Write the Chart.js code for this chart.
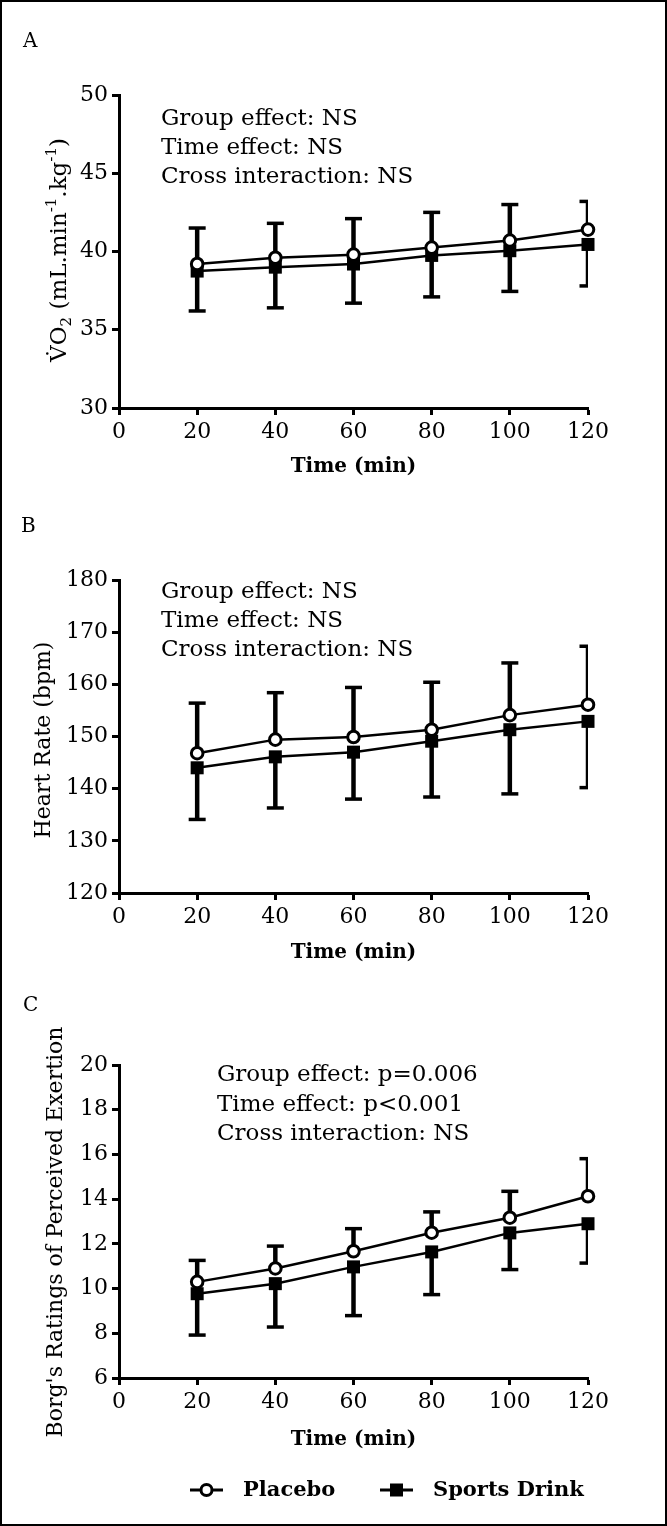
<!DOCTYPE html>
<html>
<head>
<meta charset="utf-8">
<script src="https://cdn.jsdelivr.net/npm/chart.js@4.4.1/dist/chart.umd.min.js"></script>
<style>
html, body { margin: 0; padding: 0; background: #fff; }
#wrap { position: relative; width: 667px; height: 1526px; overflow: hidden; background: #fff; }
#wrap canvas { position: absolute; left: 0; }
#frame { position: absolute; left: 0; top: 0; width: 667px; height: 1526px; box-sizing: border-box; border: 2px solid #000; pointer-events: none; }
</style>
</head>
<body>
<div id="wrap">
  <canvas id="cA" width="667" height="490" style="top:0px"></canvas>
  <canvas id="cB" width="667" height="480" style="top:490px"></canvas>
  <canvas id="cC" width="667" height="556" style="top:970px"></canvas>
  <div id="frame"></div>
</div>
<script>
// ---------------- data ----------------
const times = [20, 40, 60, 80, 100, 120];
const xTickValues = [0, 20, 40, 60, 80, 100, 120];
const seriesLabels = ['Placebo', 'Sports Drink'];
const xTitle = 'Time (min)';

// Panel A: VO2
const vo2Ticks = [30, 35, 40, 45, 50];
const vo2Placebo = [39.2, 39.6, 39.8, 40.25, 40.7, 41.4];
const vo2PlaceboUpper = [41.5, 41.8, 42.1, 42.5, 43.0, 43.2];
const vo2Sports = [38.75, 39.0, 39.2, 39.75, 40.05, 40.45];
const vo2SportsLower = [36.2, 36.4, 36.7, 37.1, 37.45, 37.8];
const vo2TitleParts = ['V\u0307O', '2', ' (mL.min', '-1', '.kg', '-1', ')'];
const vo2TitleKinds = ['n', 'sub', 'n', 'sup', 'n', 'sup', 'n'];
const vo2Notes = ['Group effect: NS', 'Time effect: NS', 'Cross interaction: NS'];

// Panel B: Heart rate
const hrTicks = [120, 130, 140, 150, 160, 170, 180];
const hrPlacebo = [146.8, 149.4, 149.9, 151.3, 154.1, 156.1];
const hrPlaceboUpper = [156.4, 158.4, 159.4, 160.4, 164.1, 167.3];
const hrSports = [144.0, 146.1, 147.0, 149.1, 151.3, 152.9];
const hrSportsLower = [134.1, 136.3, 138.0, 138.4, 139.0, 140.2];
const hrTitle = 'Heart Rate (bpm)';
const hrNotes = ['Group effect: NS', 'Time effect: NS', 'Cross interaction: NS'];

// Panel C: RPE
const rpeTicks = [6, 8, 10, 12, 14, 16, 18, 20];
const rpePlacebo = [10.3, 10.9, 11.67, 12.5, 13.17, 14.13];
const rpePlaceboUpper = [11.26, 11.9, 12.68, 13.43, 14.35, 15.81];
const rpeSports = [9.77, 10.22, 10.97, 11.64, 12.49, 12.9];
const rpeSportsLower = [7.92, 8.28, 8.79, 9.73, 10.85, 11.14];
const rpeTitle = "Borg's Ratings of Perceived Exertion";
const rpeNotes = ['Group effect: p=0.006', 'Time effect: p<0.001', 'Cross interaction: NS'];

// ---------------- rendering ----------------
const FONT = '"DejaVu Serif", "Liberation Serif", serif';

function makeDeco(cfg) {
  return {
    id: 'deco' + cfg.letter,
    beforeDatasetsDraw(chart) {
      const { ctx, chartArea } = chart;
      const xs = chart.scales.x, ys = chart.scales.y;
      ctx.save();
      ctx.beginPath();
      ctx.rect(chartArea.left - 20, 0, chartArea.right - chartArea.left + 20, chart.height);
      ctx.clip();
      ctx.strokeStyle = '#000';
      ctx.lineCap = 'butt';
      cfg.bars.forEach(b => {
        b.means.forEach((m, i) => {
          const x = xs.getPixelForValue(times[i]);
          const y0 = ys.getPixelForValue(m);
          const y1 = ys.getPixelForValue(b.tips[i]);
          ctx.lineWidth = 4.5;
          ctx.beginPath(); ctx.moveTo(x, y0); ctx.lineTo(x, y1); ctx.stroke();
          ctx.lineWidth = 3.5;
          ctx.beginPath(); ctx.moveTo(x - 8.5, y1); ctx.lineTo(x + 8.5, y1); ctx.stroke();
        });
      });
      ctx.restore();
    },
    afterDraw(chart) {
      const ctx = chart.ctx;
      ctx.save();
      ctx.fillStyle = '#000';
      // panel letter
      ctx.font = '20px ' + FONT;
      ctx.textAlign = 'left';
      ctx.textBaseline = 'alphabetic';
      ctx.fillText(cfg.letter, cfg.letterX, cfg.letterY);
      // notes
      ctx.font = '23px ' + FONT;
      cfg.notes.forEach((t, i) => ctx.fillText(t, cfg.notesX, cfg.notesY[i]));
      // y title
      ctx.save();
      ctx.translate(cfg.yTitleX, cfg.yTitleY);
      ctx.rotate(-Math.PI / 2);
      if (cfg.yTitleParts) {
        const fontOf = k => (k === 'n' ? '23px ' : '15px ') + FONT;
        let total = 0;
        const widths = cfg.yTitleParts.map((t, i) => {
          ctx.font = fontOf(cfg.yTitleKinds[i]);
          const w = ctx.measureText(t).width;
          total += w;
          return w;
        });
        let x = -total / 2;
        ctx.textAlign = 'left';
        ctx.textBaseline = 'alphabetic';
        cfg.yTitleParts.forEach((t, i) => {
          const k = cfg.yTitleKinds[i];
          ctx.font = fontOf(k);
          const dy = k === 'sub' ? 5 : (k === 'sup' ? -10 : 0);
          ctx.fillText(t, x, dy);
          x += widths[i];
        });
      } else {
        ctx.font = '22px ' + FONT;
        ctx.textAlign = 'center';
        ctx.textBaseline = 'middle';
        ctx.fillText(cfg.yTitle, 0, 0);
      }
      ctx.restore();
      // legend
      if (cfg.legend) {
        const ly = cfg.legend.y;
        cfg.legend.xs.forEach((x0, i) => {
          ctx.strokeStyle = '#000';
          ctx.lineWidth = 3;
          ctx.beginPath(); ctx.moveTo(x0, ly); ctx.lineTo(x0 + 33, ly); ctx.stroke();
          const cx = x0 + 16.5;
          if (i === 0) {
            ctx.beginPath(); ctx.arc(cx, ly, 5.5, 0, Math.PI * 2);
            ctx.fillStyle = '#fff'; ctx.fill(); ctx.stroke();
          } else {
            ctx.fillStyle = '#000'; ctx.fillRect(cx - 6.5, ly - 6.5, 13, 13);
          }
          ctx.fillStyle = '#000';
          ctx.font = 'bold 21px ' + FONT;
          ctx.textAlign = 'left';
          ctx.textBaseline = 'middle';
          ctx.fillText(seriesLabels[i], x0 + 53, ly + 1);
        });
      }
      ctx.restore();
    }
  };
}

function makeChart(id, p) {
  const axisCommon = {
    grid: { display: true, drawOnChartArea: false, drawTicks: true, tickLength: 7, tickWidth: 3, tickColor: '#000' },
    border: { display: true, color: '#000', width: 3 }
  };
  return new Chart(document.getElementById(id), {
    type: 'line',
    data: {
      datasets: [
        {
          label: seriesLabels[0],
          data: times.map((t, i) => ({ x: t, y: p.placebo[i] })),
          borderColor: '#000', borderWidth: 2.5, tension: 0, fill: false, clip: false,
          pointStyle: 'circle', pointRadius: 5.8, pointBorderWidth: 3,
          pointBackgroundColor: '#fff', pointBorderColor: '#000'
        },
        {
          label: seriesLabels[1],
          data: times.map((t, i) => ({ x: t, y: p.sports[i] })),
          borderColor: '#000', borderWidth: 2.5, tension: 0, fill: false, clip: false,
          pointStyle: 'rect', pointRadius: 9.2, pointBorderWidth: 0,
          pointBackgroundColor: '#000', pointBorderColor: '#000'
        }
      ]
    },
    options: {
      responsive: false,
      animation: false,
      devicePixelRatio: 1,
      events: [],
      layout: { padding: { left: 0, right: 79, top: p.padTop, bottom: p.padBottom } },
      plugins: { legend: { display: false }, tooltip: { enabled: false } },
      scales: {
        x: {
          type: 'linear', min: 0, max: 120,
          afterBuildTicks: s => { s.ticks = xTickValues.map(v => ({ value: v })); },
          afterFit: s => { s.height = p.xH; },
          grid: axisCommon.grid, border: axisCommon.border,
          ticks: { color: '#000', font: { family: FONT, size: 22 }, padding: 4, maxRotation: 0, autoSkip: false },
          title: { display: true, text: xTitle, color: '#000', font: { family: FONT, size: 20, weight: 'bold' }, padding: { top: 0, bottom: p.xTitlePad } }
        },
        y: {
          type: 'linear', min: p.yTicks[0], max: p.yTicks[p.yTicks.length - 1],
          afterBuildTicks: s => { s.ticks = p.yTicks.map(v => ({ value: v })); },
          afterFit: s => { s.width = 119; },
          grid: axisCommon.grid, border: axisCommon.border,
          ticks: { color: '#000', font: { family: FONT, size: 22 }, padding: 4, autoSkip: false }
        }
      }
    },
    plugins: [makeDeco(p.deco)]
  });
}

makeChart('cA', {
  placebo: vo2Placebo, sports: vo2Sports, yTicks: vo2Ticks,
  padTop: 95, padBottom: 0, xH: 82, xTitlePad: 11,
  deco: {
    letter: 'A', letterX: 23, letterY: 47,
    notes: vo2Notes, notesX: 161, notesY: [125, 154, 183],
    yTitleParts: vo2TitleParts, yTitleKinds: vo2TitleKinds, yTitleX: 66, yTitleY: 250,
    bars: [{ means: vo2Placebo, tips: vo2PlaceboUpper }, { means: vo2Sports, tips: vo2SportsLower }]
  }
});

makeChart('cB', {
  placebo: hrPlacebo, sports: hrSports, yTicks: hrTicks,
  padTop: 90, padBottom: 0, xH: 77, xTitlePad: 5,
  deco: {
    letter: 'B', letterX: 21, letterY: 42,
    notes: hrNotes, notesX: 161, notesY: [108, 137, 166],
    yTitle: hrTitle, yTitleX: 44, yTitleY: 250,
    bars: [{ means: hrPlacebo, tips: hrPlaceboUpper }, { means: hrSports, tips: hrSportsLower }]
  }
});

makeChart('cC', {
  placebo: rpePlacebo, sports: rpeSports, yTicks: rpeTicks,
  padTop: 95, padBottom: 66, xH: 82, xTitlePad: 8,
  deco: {
    letter: 'C', letterX: 23, letterY: 41,
    notes: rpeNotes, notesX: 217, notesY: [111, 141, 170],
    yTitle: rpeTitle, yTitleX: 56, yTitleY: 262,
    bars: [{ means: rpePlacebo, tips: rpePlaceboUpper }, { means: rpeSports, tips: rpeSportsLower }],
    legend: { y: 520, xs: [190, 380] }
  }
});
</script>
</body>
</html>
